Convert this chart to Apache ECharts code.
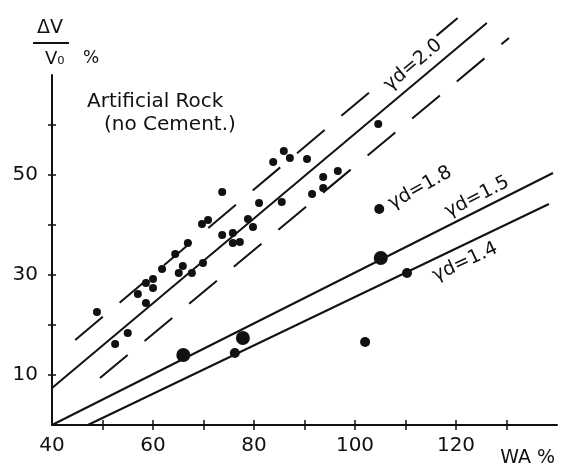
<!DOCTYPE html>
<html>
<head>
<meta charset="utf-8">
<script src="https://cdn.jsdelivr.net/npm/echarts@6/dist/echarts.min.js"></script>
<style>
  html, body { margin: 0; padding: 0; background: #ffffff; }
  #chart { width: 561px; height: 471px; }
</style>
</head>
<body>
<div id="chart"></div>
<script>
// Swelling ΔV/V0 (%) against water absorption WA (%) for artificial rock.
const INK = '#111111';
const FONT = 'DejaVu Sans';

// Tick positions
const xTicks = [50, 60, 70, 80, 90, 100, 110, 120, 130];
const xTickLabels = [40, 60, 80, 100, 120];
const yTicks = [10, 20, 30, 40, 50, 60];
const yTickLabels = [10, 30, 50];

// γd = 2.0 samples [WA, ΔV/V0]
const pointsGd20 = [
  [48.9, 22.6], [52.5, 16.2], [55.0, 18.4], [57.0, 26.2], [58.6, 28.4],
  [60.0, 29.2], [60.0, 27.4], [58.6, 24.4], [61.8, 31.2], [64.4, 34.2],
  [66.9, 36.4], [65.9, 31.8], [65.1, 30.4], [67.7, 30.4], [69.7, 40.2],
  [70.9, 41.0], [73.7, 46.6], [69.9, 32.4], [73.7, 38.0], [75.8, 38.4],
  [75.8, 36.4], [77.2, 36.6], [78.8, 41.2], [79.8, 39.6], [81.0, 44.4],
  [85.5, 44.6], [83.8, 52.6], [85.9, 54.8], [87.1, 53.4], [90.5, 53.2],
  [93.7, 49.6], [96.6, 50.8], [93.7, 47.4], [91.5, 46.2], [104.6, 60.2]
];
// γd = 1.8, 1.5, 1.4 and a further sample
const pointsGd18 = [[104.8, 43.2]];
const pointsGd15 = [[66.0, 14.0], [77.8, 17.4], [105.1, 33.4]];
const pointsGd14 = [[76.2, 14.4], [110.3, 30.4]];
const pointsOther = [[102.0, 16.6]];

// Fitted lines (end points) and the scatter band around γd = 2.0
const lineGd20 = [[40, 7.4], [126.1, 80.4]];
const bandUpper = [[44.6, 17.0], [122.2, 83.0]];
const bandLower = [[49.5, 9.4], [130.5, 77.4]];
const lineGd15 = [[40, 0], [139.2, 50.4]];
const lineGd14 = [[47.1, 0], [138.4, 44.2]];

// Line captions
const captions = ['γd=2.0', 'γd=1.8', 'γd=1.5', 'γd=1.4'];
const captionAt = [[111.5, 72.0], [112.9, 47.4], [124.2, 45.6], [121.8, 32.6]];
const captionAngle = [40, 29, 27, 25];

const chart = echarts.init(document.getElementById('chart'), null, { renderer: 'canvas' });

function lineSeries(data, dashed) {
  return {
    type: 'line', data: data, symbol: 'none', clip: false, z: 2, silent: true,
    lineStyle: { color: INK, width: 2, type: dashed ? [36, 22] : 'solid' }
  };
}
function dotSeries(data, size) {
  return {
    type: 'scatter', data: data, symbol: 'circle', symbolSize: size, z: 3, silent: true,
    itemStyle: { color: INK, opacity: 1 }
  };
}

const axisCommon = {
  type: 'value', splitLine: { show: false }
};

chart.setOption({
  backgroundColor: '#ffffff',
  animation: false,
  grid: { left: 52, right: 4, top: 75, bottom: 46 },
  xAxis: [
    Object.assign({}, axisCommon, {
      min: 40, max: 140, interval: 10,
      axisLine: { show: true, lineStyle: { color: INK, width: 2 } },
      axisTick: { show: true, length: 5, customValues: xTicks, lineStyle: { color: INK, width: 1.5 } },
      axisLabel: { customValues: xTickLabels, margin: 11, color: INK, fontFamily: FONT, fontSize: 20 }
    }),
    Object.assign({}, axisCommon, {
      min: 40, max: 140, interval: 10, position: 'bottom',
      axisLine: { show: false },
      axisTick: { show: true, inside: true, length: 5, customValues: xTicks, lineStyle: { color: INK, width: 1.5 } },
      axisLabel: { show: false }
    })
  ],
  yAxis: [
    Object.assign({}, axisCommon, {
      min: 0, max: 70, interval: 10,
      axisLine: { show: true, lineStyle: { color: INK, width: 2 } },
      axisTick: { show: true, length: 4, customValues: yTicks, lineStyle: { color: INK, width: 1.5 } },
      axisLabel: { customValues: yTickLabels, margin: 14, color: INK, fontFamily: FONT, fontSize: 20 }
    }),
    Object.assign({}, axisCommon, {
      min: 0, max: 70, interval: 10, position: 'left',
      axisLine: { show: false },
      axisTick: { show: true, inside: true, length: 4, customValues: yTicks, lineStyle: { color: INK, width: 1.5 } },
      axisLabel: { show: false }
    })
  ],
  series: [
    lineSeries(lineGd20, false),
    lineSeries(bandUpper, true),
    lineSeries(bandLower, true),
    lineSeries(lineGd15, false),
    lineSeries(lineGd14, false),
    dotSeries(pointsGd20, 8),
    dotSeries(pointsGd18, 10),
    dotSeries(pointsGd15, 14),
    dotSeries(pointsGd14, 10),
    dotSeries(pointsOther, 10),
    {
      type: 'scatter', z: 10, silent: true, symbolSize: 0, clip: false,
      itemStyle: { opacity: 1 },
      data: captions.map((t, i) => ({
        value: captionAt[i],
        label: {
          show: true, position: 'inside', formatter: t, rotate: captionAngle[i],
          color: INK, fontFamily: FONT, fontSize: 19, opacity: 1,
          backgroundColor: i === 0 ? '#ffffff' : 'transparent', padding: [0, 2]
        }
      }))
    }
  ],
  graphic: [
    { type: 'text', left: 37, top: 19, style: { text: 'ΔV', fill: INK, font: '19px "DejaVu Sans"' } },
    { type: 'line', shape: { x1: 33, y1: 43, x2: 69, y2: 43 }, style: { stroke: INK, lineWidth: 2 } },
    { type: 'text', left: 45, top: 50, style: { text: 'V₀', fill: INK, font: '18px "DejaVu Sans"' } },
    { type: 'text', left: 83, top: 50, style: { text: '%', fill: INK, font: '17px "DejaVu Sans"' } },
    { type: 'text', left: 87, top: 92, style: { text: 'Artificial Rock', fill: INK, font: '20px "DejaVu Sans"' } },
    { type: 'text', left: 104, top: 115, style: { text: '(no Cement.)', fill: INK, font: '20px "DejaVu Sans"' } },
    { type: 'text', right: 6, top: 449, style: { text: 'WA %', fill: INK, font: '19px "DejaVu Sans"' } }
  ]
});
</script>
</body>
</html>
